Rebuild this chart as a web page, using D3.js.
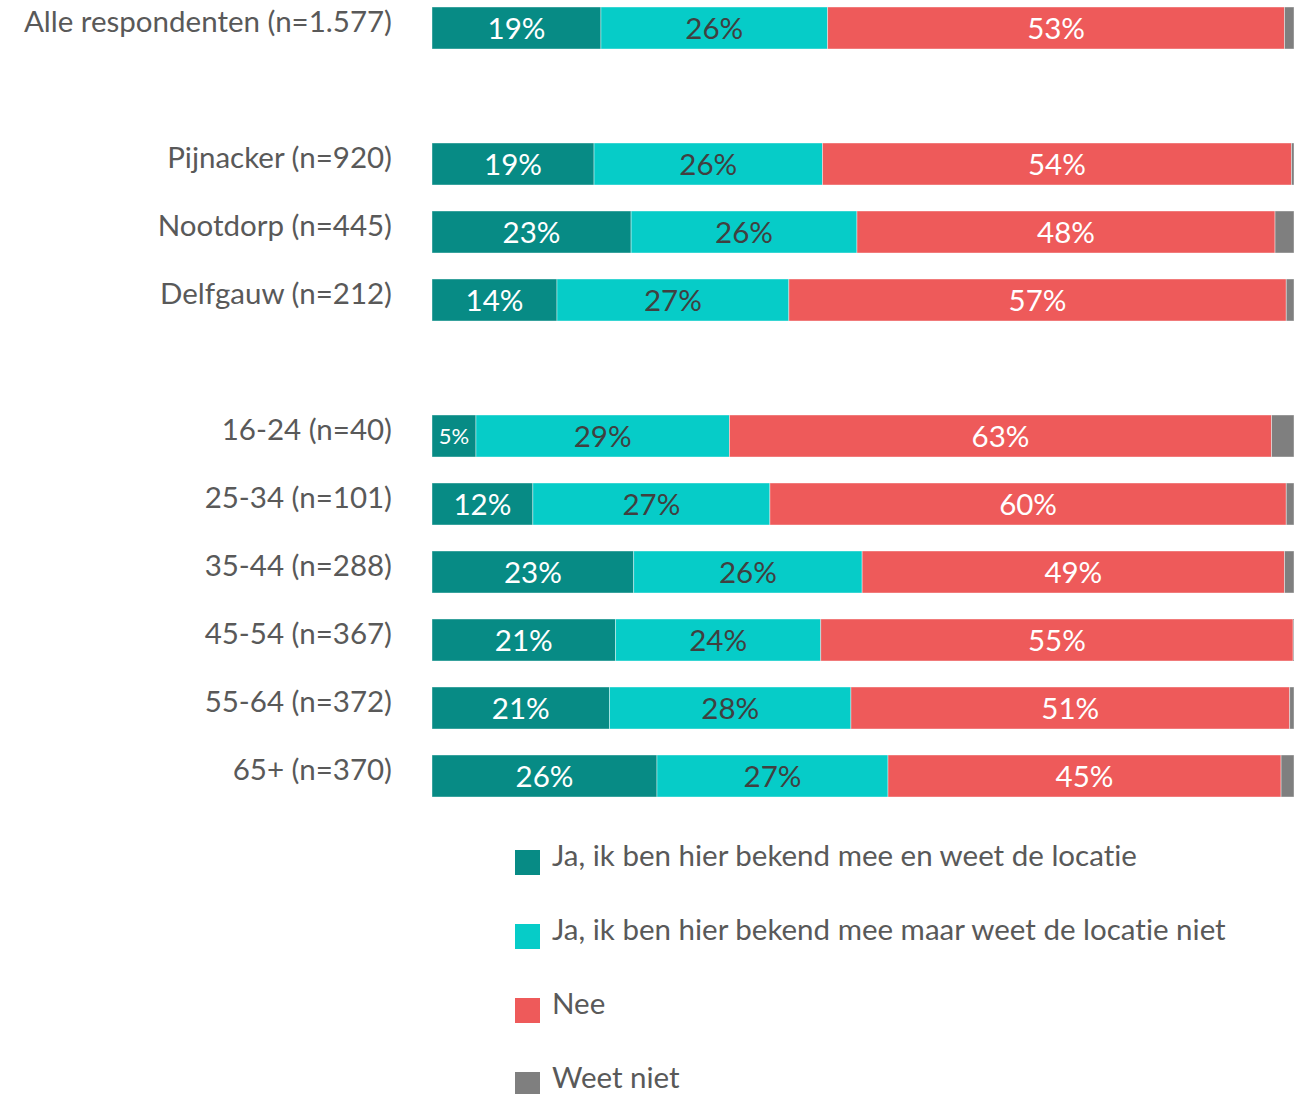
<!DOCTYPE html>
<html>
<head>
<meta charset="utf-8">
<script src="https://cdn.jsdelivr.net/npm/d3@7"></script>
<style>
  body { margin: 0; background: #fff; }
  text { font-family: Lato, "Open Sans", sans-serif; font-variant-ligatures: none; }
</style>
</head>
<body>
<div id="chart"></div>
<script>
// categories (blank entries are spacer rows between groups)
var categories = ["Alle respondenten (n=1.577)", "", "Pijnacker (n=920)", "Nootdorp (n=445)", "Delfgauw (n=212)", " ",
	"16-24 (n=40)", "25-34 (n=101)", "35-44 (n=288)", "45-54 (n=367)", "55-64 (n=372)", "65+ (n=370)"];
var rows = ["Alle respondenten (n=1.577)", "Pijnacker (n=920)", "Nootdorp (n=445)", "Delfgauw (n=212)",
	"16-24 (n=40)", "25-34 (n=101)", "35-44 (n=288)", "45-54 (n=367)", "55-64 (n=372)", "65+ (n=370)"];

var seriesNames = ["Ja, ik ben hier bekend mee en weet de locatie",
	"Ja, ik ben hier bekend mee maar weet de locatie niet", "Nee", "Weet niet"];
var colors = ["#078b85", "#06ccc8", "#ee5a5a", "#7f7f7f"];
var labelColors = ["#ffffff", "#404040", "#ffffff", null];

// bar widths (estimated %) per series
var jaWeet    = [19.6, 18.8, 23.1, 14.5, 5.1, 11.7, 23.4, 21.3, 20.6, 26.1];
var jaNiet    = [26.3, 26.5, 26.2, 26.9, 29.4, 27.5, 26.5, 23.8, 28.0, 26.8];
var nee       = [53.0, 54.4, 48.5, 57.7, 62.9, 59.9, 49.0, 54.8, 50.9, 45.6];
var weetNiet  = [1.1, 0.3, 2.2, 0.9, 2.6, 0.9, 1.1, 0.1, 0.5, 1.5];

// printed labels
var jaWeetLbl = [19, 19, 23, 14, 5, 12, 23, 21, 21, 26];
var jaNietLbl = [26, 26, 26, 27, 29, 27, 26, 24, 28, 27];
var neeLbl    = [53, 54, 48, 57, 63, 60, 49, 55, 51, 45];

var values = [jaWeet, jaNiet, nee, weetNiet];
var labels = [jaWeetLbl, jaNietLbl, neeLbl, null];

var width = 1294, height = 1094;

var svg = d3.select("#chart")
  .append("svg")
	.attr("width", width)
	.attr("height", height);

var x = d3.scaleLinear()
	.domain([0, 100])
	.range([432, 1294]);

var y = d3.scaleBand()
	.domain(categories)
	.range([-6, 810])
	.paddingInner(26 / 68)
	.paddingOuter(13 / 68);

// build stacked rows
var data = rows.map(function(r, i) {
	var obj = { cat: r };
	seriesNames.forEach(function(s, k) { obj[s] = values[k][i]; });
	return obj;
});
var stacked = d3.stack().keys(seriesNames)(data);

// category labels
svg.append("g")
  .selectAll("text")
  .data(rows)
  .enter()
  .append("text")
	.attr("x", 392)
	.attr("y", function(d) { return y(d) + y.bandwidth() / 2 - 6; })
	.attr("dy", "0.35em")
	.attr("text-anchor", "end")
	.style("font-size", "29.5px")
	.style("fill", "#595959")
	.text(function(d) { return d; });

// bars
stacked.forEach(function(layer, k) {
	var g = svg.append("g");
	g.selectAll("rect")
	  .data(layer)
	  .enter()
	  .append("rect")
		.attr("x", function(d) { return x(d[0]); })
		.attr("y", function(d) { return y(d.data.cat); })
		.attr("width", function(d) { return x(d[1]) - x(d[0]); })
		.attr("height", y.bandwidth())
		.attr("fill", colors[k])
		.attr("stroke", "#ffffff")
		.attr("stroke-opacity", 0.5)
		.attr("stroke-width", 0.8);

	if (!labels[k]) return;
	g.selectAll("text")
	  .data(layer)
	  .enter()
	  .append("text")
		.attr("x", function(d) { return (x(d[0]) + x(d[1])) / 2; })
		.attr("y", function(d) { return y(d.data.cat) + y.bandwidth() / 2; })
		.attr("dy", "0.36em")
		.attr("text-anchor", "middle")
		.style("font-size", function(d) { return (x(d[1]) - x(d[0])) < 60 ? "22px" : "29.5px"; })
		.style("fill", labelColors[k])
		.text(function(d, i) { return labels[k][i] + "%"; });
});

// legend
var legend = svg.append("g")
  .selectAll("g")
  .data(seriesNames)
  .enter()
  .append("g")
	.attr("transform", function(d, i) { return "translate(515," + (850 + i * 74) + ")"; });

legend.append("rect")
	.attr("width", 25)
	.attr("height", 25)
	.attr("fill", function(d, i) { return colors[i]; });

legend.append("text")
	.attr("x", 37)
	.attr("y", 6)
	.attr("dy", "0.35em")
	.style("font-size", "29.5px")
	.style("fill", "#595959")
	.text(function(d) { return d; });
</script>
</body>
</html>
